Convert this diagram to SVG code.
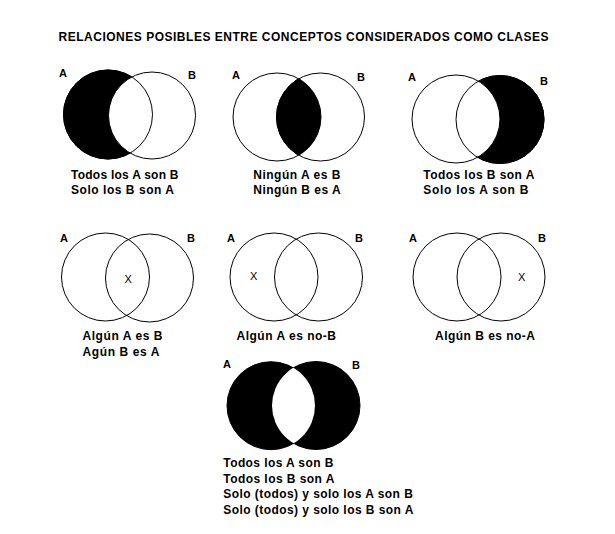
<svg xmlns="http://www.w3.org/2000/svg" width="615" height="534" viewBox="0 0 615 534">
<style>
.c{fill:none;stroke:#000;stroke-width:1}
.w{fill:#fff;stroke:#000;stroke-width:1}
.k{fill:#000;stroke:#000;stroke-width:1}
.t{font-family:"Liberation Sans",Arial,sans-serif;font-weight:bold;font-size:12px;fill:#000}
.l{font-family:"Liberation Sans",Arial,sans-serif;font-weight:bold;font-size:11px;fill:#000}
.x{font-family:"Liberation Sans",Arial,sans-serif;font-size:11px;fill:#000}
</style>
<defs>
<clipPath id="cA2"><circle cx="277" cy="117" r="44"/></clipPath>
<clipPath id="cA7"><circle cx="271" cy="405.7" r="44"/></clipPath>
</defs>
<rect width="615" height="534" fill="#fff"/>
<text class="t" x="58.5" y="41" textLength="490" lengthAdjust="spacing">RELACIONES POSIBLES ENTRE CONCEPTOS CONSIDERADOS COMO CLASES</text>

<g id="d1">
<circle class="k" cx="108" cy="114.5" r="44.5"/>
<circle class="w" cx="152" cy="115.5" r="43.5"/>
<circle class="c" cx="108" cy="114.5" r="44.5"/>
<text class="l" x="59" y="77">A</text>
<text class="l" x="188" y="78.5">B</text>
<text class="t" x="71" y="179" textLength="107.5" lengthAdjust="spacing">Todos los A son B</text>
<text class="t" x="71" y="194" textLength="103" lengthAdjust="spacing">Solo los B son A</text>
</g>

<g id="d2">
<circle class="c" cx="277" cy="117" r="44"/>
<circle class="k" cx="320.5" cy="117" r="44" clip-path="url(#cA2)"/>
<circle class="c" cx="320.5" cy="117" r="44"/>
<text class="l" x="232" y="79">A</text>
<text class="l" x="357" y="81">B</text>
<text class="t" x="253.3" y="179" textLength="87" lengthAdjust="spacing">Ningún A es B</text>
<text class="t" x="253.3" y="194" textLength="87.3" lengthAdjust="spacing">Ningún B es A</text>
</g>

<g id="d3">
<circle class="k" cx="500" cy="119.5" r="44"/>
<circle class="w" cx="456" cy="119" r="44"/>
<circle class="c" cx="500" cy="119.5" r="44"/>
<text class="l" x="408" y="81">A</text>
<text class="l" x="540" y="85">B</text>
<text class="t" x="423.3" y="179" textLength="111" lengthAdjust="spacing">Todos los B son A</text>
<text class="t" x="423.3" y="194" textLength="105" lengthAdjust="spacing">Solo los A son B</text>
</g>

<g id="d4">
<circle class="c" cx="105.5" cy="277" r="44"/>
<circle class="c" cx="149.5" cy="278" r="44"/>
<text class="l" x="60" y="242">A</text>
<text class="l" x="187" y="241.5">B</text>
<text class="x" x="124.5" y="283">X</text>
<text class="t" x="82.5" y="340" textLength="80" lengthAdjust="spacing">Algún A es B</text>
<text class="t" x="82.5" y="356" textLength="77" lengthAdjust="spacing">Agún B es A</text>
</g>

<g id="d5">
<circle class="c" cx="274" cy="277" r="44"/>
<circle class="c" cx="318.5" cy="277" r="44"/>
<text class="l" x="227" y="242">A</text>
<text class="l" x="355" y="242">B</text>
<text class="x" x="250" y="280">X</text>
<text class="t" x="236.5" y="340" textLength="99.5" lengthAdjust="spacing">Algún A es no-B</text>
</g>

<g id="d6">
<circle class="c" cx="457" cy="277" r="44"/>
<circle class="c" cx="501" cy="277" r="44"/>
<text class="l" x="409" y="242">A</text>
<text class="l" x="538" y="242">B</text>
<text class="x" x="518" y="281">X</text>
<text class="t" x="435" y="339.5" textLength="100" lengthAdjust="spacing">Algún B es no-A</text>
</g>

<g id="d7">
<circle class="k" cx="271" cy="405.7" r="44"/>
<circle class="k" cx="316" cy="405.5" r="44"/>
<circle cx="316" cy="405.5" r="44" fill="#fff" clip-path="url(#cA7)"/>
<text class="l" x="223" y="367.5">A</text>
<text class="l" x="352" y="369">B</text>
<text class="t" x="223.3" y="467" textLength="110" lengthAdjust="spacing">Todos los A son B</text>
<text class="t" x="223.3" y="482.5" textLength="111" lengthAdjust="spacing">Todos los B son A</text>
<text class="t" x="223.3" y="498" textLength="189.5" lengthAdjust="spacing">Solo (todos) y solo los A son B</text>
<text class="t" x="223.3" y="513.5" textLength="190" lengthAdjust="spacing">Solo (todos) y solo los B son A</text>
</g>
</svg>
